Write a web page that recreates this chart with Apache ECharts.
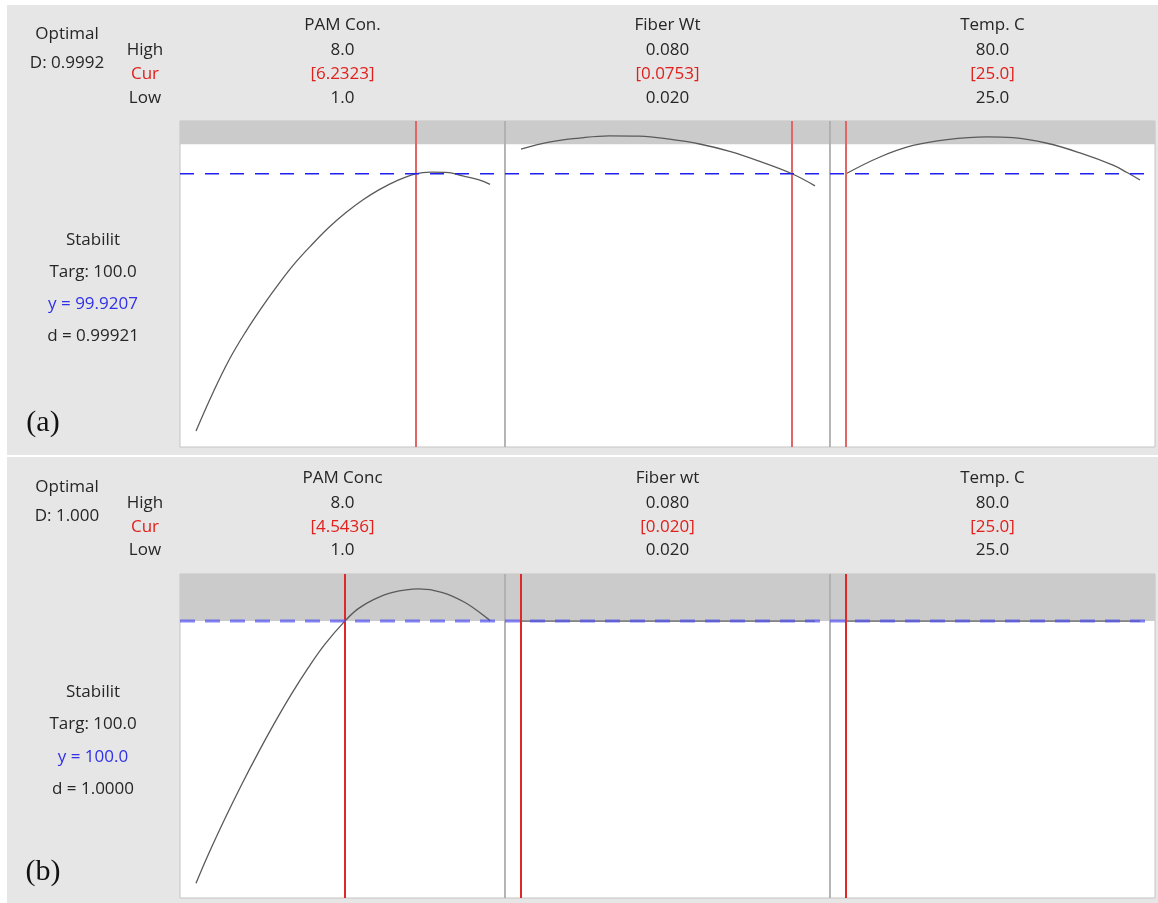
<!DOCTYPE html>
<html>
<head>
<meta charset="utf-8">
<script src="https://cdn.jsdelivr.net/npm/echarts@6/dist/echarts.min.js"></script>
<style>
  html, body { margin: 0; padding: 0; background: #ffffff; }
  #chart { width: 1158px; height: 903px; }
</style>
</head>
<body>
<div id="chart"></div>
<script>
// ---- Factor settings ----
const factorNamesA = ['PAM Con.', 'Fiber Wt', 'Temp. C'];
const factorNamesB = ['PAM Conc', 'Fiber wt', 'Temp. C'];
const highValues = [8.0, 0.080, 80.0];
const lowValues = [1.0, 0.020, 25.0];
const highLabels = ['8.0', '0.080', '80.0'];
const lowLabels = ['1.0', '0.020', '25.0'];
const currentA = [6.2323, 0.0753, 25.0];
const currentLabelsA = ['[6.2323]', '[0.0753]', '[25.0]'];
const currentB = [4.5436, 0.020, 25.0];
const currentLabelsB = ['[4.5436]', '[0.020]', '[25.0]'];

// ---- Response: stability ----
const responseName = 'Stabilit';
const targetValue = 100.0;
const predictedA = 99.9207;
const predictedB = 100.0;
const desirabilityA = '0.99921';
const desirabilityB = '1.0000';
const compositeA = '0.9992';
const compositeB = '1.000';

// ---- Predicted stability traces: [factor level, stability] ----
const pamTraceA = [
  [1.0, 99.227], [1.398, 99.329], [1.793, 99.420], [2.190, 99.496], [2.588, 99.564],
  [2.983, 99.626], [3.381, 99.683], [3.779, 99.732], [4.174, 99.777], [4.571, 99.816],
  [4.969, 99.850], [5.364, 99.878], [5.762, 99.901], [6.2323, 99.9207], [6.588, 99.925],
  [6.950, 99.9245], [7.350, 99.915], [7.740, 99.904], [8.0, 99.892]
];
const fiberTraceA = [
  [0.020, 99.987], [0.02573, 100.006], [0.03188, 100.017], [0.03802, 100.023], [0.04417, 100.022],
  [0.05031, 100.014], [0.05645, 100.001], [0.06259, 99.981], [0.06874, 99.954], [0.0753, 99.9207],
  [0.080, 99.888]
];
const tempTraceA = [
  [25.0, 99.9207], [31.36, 99.966], [37.54, 99.997], [43.90, 100.013], [51.38, 100.020],
  [56.25, 100.018], [62.61, 100.003], [68.78, 99.977], [74.96, 99.944], [77.58, 99.924],
  [80.0, 99.904]
];
const pamTraceB = [
  [1.0, 99.053], [1.293, 99.157], [1.690, 99.287], [2.088, 99.410], [2.483, 99.525],
  [2.881, 99.635], [3.279, 99.738], [3.674, 99.832], [4.071, 99.917], [4.5436, 100.0],
  [4.864, 100.045], [5.262, 100.080], [5.660, 100.103], [6.293, 100.116], [6.850, 100.104],
  [7.405, 100.067], [7.960, 100.007], [8.0, 100.0]
];
const fiberTraceB = [[0.020, 100.0], [0.080, 100.0]];
const tempTraceB = [[25.0, 100.0], [80.0, 100.0]];

// ---- Layout ----
const FONT = '"Open Sans", "Noto Sans", sans-serif';
const FRAME_LEFT = 180;
const CELL_W = 325;
const PAD_L = 16;
const PAD_R = 15;
const TEXT_DARK = '#262626';
const TEXT_RED = '#e0201c';
const TEXT_BLUE = '#3030e8';

const panels = [
  {
    top: 121, height: 326, yMin: 99.184, yMax: 100.063,
    names: factorNamesA, cur: currentA, curLabels: currentLabelsA,
    traces: [pamTraceA, fiberTraceA, tempTraceA],
    predicted: predictedA, predDigits: 4, d: desirabilityA, D: compositeA, tag: '(a)',
    red: { color: '#e26666', width: 2 },
    dash: { color: '#1f1ff0', width: 1.6, type: [14, 11] },
    rows: { name: 25, high: 50, cur: 74, low: 98, opt: 34, D: 63, stab: 240, targ: 272, y: 304, d: 336, tag: 423 }
  },
  {
    top: 574, height: 324, yMin: 99.0, yMax: 100.17,
    names: factorNamesB, cur: currentB, curLabels: currentLabelsB,
    traces: [pamTraceB, fiberTraceB, tempTraceB],
    predicted: predictedB, predDigits: 1, d: desirabilityB, D: compositeB, tag: '(b)',
    red: { color: '#e12828', width: 2 },
    dash: { color: 'rgba(80,80,240,0.7)', width: 3, type: [15, 10] },
    rows: { name: 478, high: 503, cur: 527, low: 550, opt: 487, D: 516, stab: 692, targ: 724, y: 757, d: 789, tag: 872 }
  }
];

const grids = [], xAxes = [], yAxes = [], series = [], graphics = [];

function txt(text, x, y, fill, size, family) {
  graphics.push({
    type: 'text', silent: true,
    style: {
      text: text, x: x, y: y, fill: fill || TEXT_DARK,
      font: (size || 17) + 'px ' + (family || FONT),
      textAlign: 'center', textVerticalAlign: 'middle', verticalAlign: 'middle'
    }
  });
}

// white margins around the two grey panels
graphics.push({ type: 'rect', silent: true, shape: { x: 0, y: 0, width: 1158, height: 5 }, style: { fill: '#ffffff' } });
graphics.push({ type: 'rect', silent: true, shape: { x: 0, y: 0, width: 7, height: 903 }, style: { fill: '#ffffff' } });
graphics.push({ type: 'rect', silent: true, shape: { x: 0, y: 455, width: 1158, height: 2 }, style: { fill: '#ffffff' } });

panels.forEach(function (p) {
  // one cell per factor
  for (let k = 0; k < 3; k++) {
    const gi = grids.length;
    const span = highValues[k] - lowValues[k];
    const inner = CELL_W - PAD_L - PAD_R;
    grids.push({
      left: FRAME_LEFT + k * CELL_W, top: p.top, width: CELL_W, height: p.height,
      show: true, backgroundColor: '#ffffff', borderColor: '#c4c4c4', borderWidth: 1
    });
    xAxes.push({
      type: 'value', gridIndex: gi, show: false,
      min: lowValues[k] - PAD_L * span / inner,
      max: highValues[k] + PAD_R * span / inner
    });
    yAxes.push({ type: 'value', gridIndex: gi, show: false, min: p.yMin, max: p.yMax });
    series.push({
      type: 'line', xAxisIndex: gi, yAxisIndex: gi, data: p.traces[k],
      showSymbol: false, smooth: 0.4, silent: true, z: 5,
      lineStyle: { color: '#5a5a5a', width: 1.3 },
      markLine: {
        silent: true, symbol: ['none', 'none'], label: { show: false }, z: 6,
        precision: 10,
        lineStyle: { color: p.red.color, width: p.red.width, type: 'solid' },
        emphasis: { disabled: true },
        data: [{ xAxis: p.cur[k] }]
      }
    });

    const cx = FRAME_LEFT + k * CELL_W + CELL_W / 2;
    txt(p.names[k], cx, p.rows.name);
    txt(highLabels[k], cx, p.rows.high);
    txt(p.curLabels[k], cx, p.rows.cur, TEXT_RED);
    txt(lowLabels[k], cx, p.rows.low);
  }

  // full-width overlay: target band, cell dividers, predicted response line
  const oi = grids.length;
  grids.push({ left: FRAME_LEFT, top: p.top, width: CELL_W * 3, height: p.height, show: false });
  xAxes.push({ type: 'value', gridIndex: oi, show: false, min: 0, max: 3 });
  yAxes.push({ type: 'value', gridIndex: oi, show: false, min: p.yMin, max: p.yMax });

  series.push({
    type: 'line', xAxisIndex: oi, yAxisIndex: oi, silent: true, z: 3,
    data: [[0, targetValue], [3, targetValue]], showSymbol: false,
    lineStyle: { opacity: 0 },
    markArea: {
      silent: true, precision: 10,
      itemStyle: { color: '#cbcbcb' },
      data: [[{ yAxis: targetValue }, { yAxis: p.yMax }]]
    }
  });
  series.push({
    type: 'line', xAxisIndex: oi, yAxisIndex: oi, silent: true, z: 4,
    data: [[0, targetValue]], showSymbol: false, lineStyle: { opacity: 0 },
    markLine: {
      silent: true, symbol: ['none', 'none'], label: { show: false },
      lineStyle: { color: '#a9a9a9', width: 1.5, type: 'solid' },
      data: [{ xAxis: 1 }, { xAxis: 2 }]
    }
  });
  series.push({
    type: 'line', xAxisIndex: oi, yAxisIndex: oi, silent: true, z: 7,
    data: [[0, p.predicted], [3, p.predicted]], showSymbol: false,
    lineStyle: { color: p.dash.color, width: p.dash.width, type: p.dash.type }
  });

  // left-hand summary text
  txt('Optimal', 67, p.rows.opt);
  txt('D: ' + p.D, 67, p.rows.D);
  txt('High', 145, p.rows.high);
  txt('Cur', 145, p.rows.cur, TEXT_RED);
  txt('Low', 145, p.rows.low);
  txt(responseName, 93, p.rows.stab);
  txt('Targ: ' + targetValue.toFixed(1), 93, p.rows.targ);
  txt('y = ' + p.predicted.toFixed(p.predDigits), 93, p.rows.y, TEXT_BLUE);
  txt('d = ' + p.d, 93, p.rows.d);
  txt(p.tag, 43, p.rows.tag, '#111111', 30, '"Liberation Serif", "DejaVu Serif", serif');
});

const chart = echarts.init(document.getElementById('chart'), null, { renderer: 'canvas' });
chart.setOption({
  backgroundColor: '#e6e6e6',
  animation: false,
  grid: grids,
  xAxis: xAxes,
  yAxis: yAxes,
  series: series,
  graphic: { elements: graphics }
});
</script>
</body>
</html>
